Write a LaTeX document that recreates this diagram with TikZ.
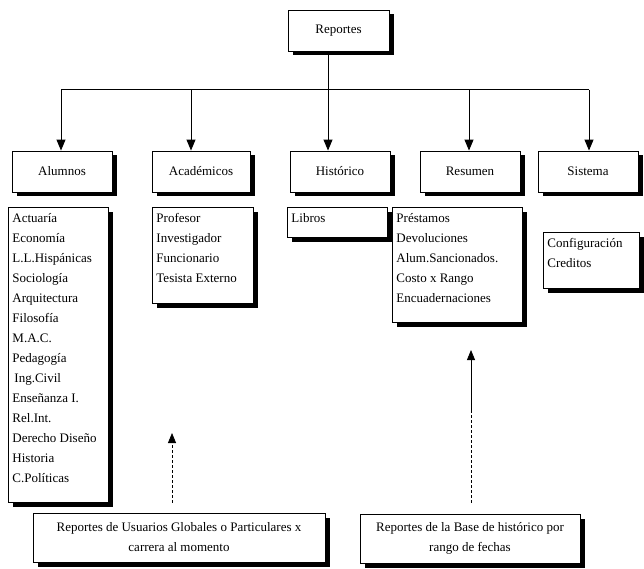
\documentclass[tikz,border=0pt]{standalone}
\usepackage{fontspec}
\setmainfont{Liberation Serif}
\usetikzlibrary{shadows,arrows.meta,calc}
\newcommand\itemlist[3]{\parbox[t][#1][t]{#2}{\raggedright\strut #3}}
\begin{document}
\begin{tikzpicture}[x=1pt,y=1pt,
  font=\fontsize{13}{20}\selectfont,
  shd/.style={drop shadow={shadow xshift=4.5pt,shadow yshift=-4.5pt,fill=black,opacity=1}},
  hbox/.style={draw=black,line width=0.9pt,fill=white,shd,minimum height=41pt,inner sep=0pt},
  lbox/.style={draw=black,line width=0.9pt,fill=white,shd,anchor=north west,inner xsep=4pt,inner ysep=1.5pt},
  bbox/.style={draw=black,line width=0.9pt,fill=white,shd,minimum height=49pt,inner sep=0pt,align=center},
  conn/.style={line width=1pt},
  arr/.style={line width=1pt,-{Triangle[width=9pt,length=11pt]}},
  uparr/.style={line width=0.8pt,-{Triangle[width=8pt,length=10pt]}},
]
\useasboundingbox (0,0) rectangle (644,568);

% top level
\node[hbox,minimum width=101pt] (rep) at (338.5,537.5) {Reportes};

% second row
\node[hbox,minimum width=100pt] (alu) at (62,396.5) {Alumnos};
\node[hbox,minimum width=98pt]  (aca) at (201,396.5) {Académicos};
\node[hbox,minimum width=100pt] (his) at (340,396.5) {Histórico};
\node[hbox,minimum width=100pt] (res) at (470,396.5) {Resumen};
\node[hbox,minimum width=100pt] (sis) at (588,396.5) {Sistema};

% connectors
\coordinate (d1) at (61,478);
\coordinate (d2) at (191,478);
\coordinate (d3) at (328,478);
\coordinate (d4) at (469,478);
\coordinate (d5) at (589,478);
\draw[conn] (d1) -- (d5);
\draw[arr] (d1) -- (d1 |- alu.north);
\draw[arr] (d2) -- (d2 |- aca.north);
\draw[arr] (rep.south -| d3) -- (d3 |- his.north);
\draw[arr] (d4) -- (d4 |- res.north);
\draw[arr] (d5) -- (d5 |- sis.north);

% lists
\node[lbox] (alul) at (8,361) {\itemlist{292pt}{92pt}{Actuaría\\Economía\\L.L.Hispánicas\\Sociología\\Arquitectura\\Filosofía\\M.A.C.\\Pedagogía\\\hspace{2pt}Ing.Civil\\Enseñanza I.\\Rel.Int.\\Derecho Diseño\\Historia\\C.Políticas}};
\node[lbox] (acal) at (152,361) {\itemlist{93pt}{93pt}{Profesor\\Investigador\\Funcionario\\Tesista Externo}};
\node[lbox] (hisl) at (287,361) {\itemlist{27pt}{92pt}{Libros}};
\node[lbox] (resl) at (392,361) {\itemlist{112pt}{122pt}{Préstamos\\Devoluciones\\Alum.Sancionados.\\Costo x Rango\\Encuadernaciones}};
\node[lbox] (sisl) at (543,336) {\itemlist{53pt}{88pt}{Configuración\\Creditos}};

% bottom notes
\node[bbox,minimum width=292pt] (bl) at (179,30.5) {Reportes de Usuarios Globales o Particulares x\\carrera al momento};
\node[bbox,minimum width=220pt] (br) at (470,29.5) {Reportes de la Base de histórico por\\rango de fechas};

% upward arrows
\coordinate (lt) at (172,135);
\draw[uparr,densely dashed] ($(bl.north -| lt)+(0,10)$) -- (lt);
\coordinate (rt) at (471,218);
\coordinate (rm) at (471,158);
\draw[line width=0.8pt,densely dashed] ($(br.north -| rt)+(0,11)$) -- (rm);
\draw[uparr] (rm) -- (rt);
\end{tikzpicture}
\end{document}
